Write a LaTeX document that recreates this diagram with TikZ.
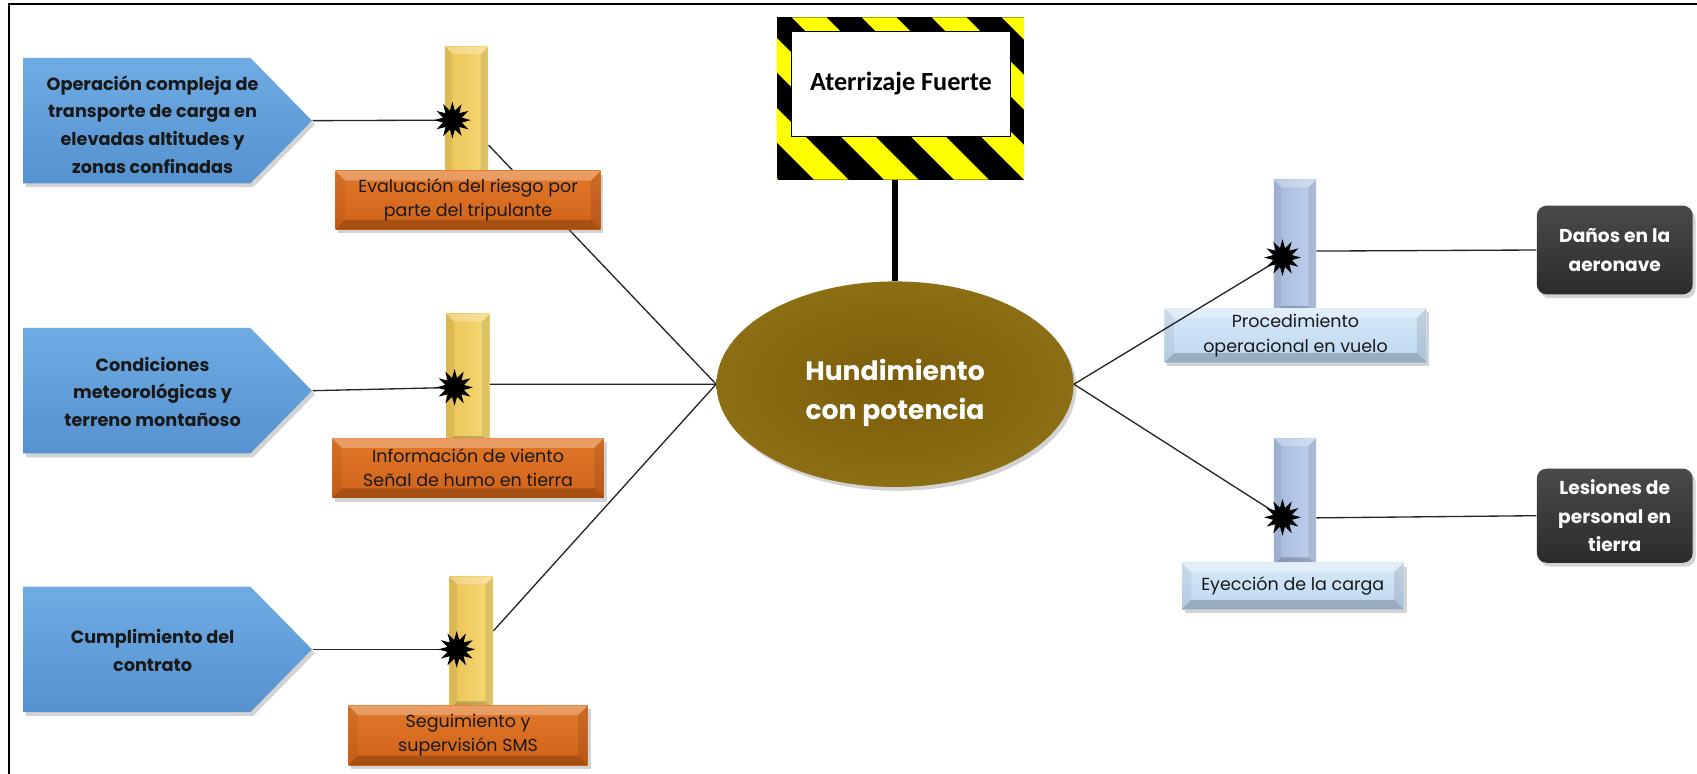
\documentclass[tikz,border=0pt]{standalone}
\usepackage{fontspec}
\setmainfont{Poppins}
\newfontfamily\signfont{Carlito}
\usetikzlibrary{shapes.geometric,shapes.symbols,shadows,calc}
\pgfdeclarelayer{bg}
\pgfsetlayers{bg,main}
\definecolor{bluetop}{HTML}{6FABE3}
\definecolor{bluebot}{HTML}{5592CF}
\definecolor{yelL}{HTML}{E9C357}
\definecolor{yelR}{HTML}{F8DA76}
\definecolor{orgtop}{HTML}{E2782A}
\definecolor{orgbot}{HTML}{CF6218}
\definecolor{ltbarL}{HTML}{A7BADD}
\definecolor{ltbarR}{HTML}{C0D1EE}
\definecolor{ltboxT}{HTML}{D8E9F8}
\definecolor{ltboxB}{HTML}{BDD7F0}
\definecolor{darkT}{HTML}{4B4949}
\definecolor{darkB}{HTML}{2C2A2A}
\definecolor{oliveIn}{HTML}{7B5D0A}
\definecolor{oliveOut}{HTML}{8C6E14}
\definecolor{signyellow}{HTML}{FFFF00}
\begin{document}
\begin{tikzpicture}[x=0.02cm,y=-0.02cm,
  shadowed/.style={drop shadow={shadow xshift=1.5pt,shadow yshift=-2pt,opacity=.35}},
  bevel/.style={path picture={
    \path (path picture bounding box.north west) coordinate (bnw)
          (path picture bounding box.north east) coordinate (bne)
          (path picture bounding box.south west) coordinate (bsw)
          (path picture bounding box.south east) coordinate (bse);
    \fill[white,opacity=.28] (bnw) -- (bne) -- ([shift={(-#1,-#1)}]bne) -- ([shift={(#1,-#1)}]bnw) -- cycle;
    \fill[black,opacity=.10] (bne) -- (bse) -- ([shift={(-#1,#1)}]bse) -- ([shift={(-#1,-#1)}]bne) -- cycle;
    \fill[black,opacity=.20] (bse) -- (bsw) -- ([shift={(#1,#1)}]bsw) -- ([shift={(-#1,#1)}]bse) -- cycle;
    \fill[black,opacity=.06] (bsw) -- (bnw) -- ([shift={(#1,-#1)}]bnw) -- ([shift={(#1,#1)}]bsw) -- cycle;
  }},
  bevel/.default=5pt,
  cause/.style={signal, signal to=east, signal pointer angle=91, shadowed,
    top color=bluetop, bottom color=bluebot, draw=none, inner sep=0pt,
    minimum width=5.34cm, minimum height=2.32cm},
  causetext/.style={align=center, inner sep=0pt,
    font=\bfseries\fontsize{9.3}{14.5}\selectfont, text=black!90},
  ybar/.style={rectangle, left color=yelL, right color=yelR, bevel=4pt, inner sep=0pt,
    minimum width=0.8cm},
  obox/.style={rectangle, top color=orgtop, bottom color=orgbot, bevel=5pt, shadowed,
    inner sep=0pt, align=center, font=\fontsize{9.2}{12.6}\selectfont, text=black!90},
  lbar/.style={rectangle, left color=ltbarL, right color=ltbarR, bevel=4pt, inner sep=0pt,
    minimum width=0.78cm},
  lbox/.style={rectangle, top color=ltboxT, bottom color=ltboxB, bevel=5pt, shadowed,
    inner sep=0pt, align=center, font=\fontsize{9.2}{13.2}\selectfont, text=black!90},
  dbox/.style={rectangle, rounded corners=0.18cm, top color=darkT, bottom color=darkB, shadowed,
    inner sep=0pt, minimum width=2.88cm, align=center,
    font=\bfseries\fontsize{9.8}{15}\selectfont, text=white},
  burst/.style={star, star points=12, star point ratio=1.9, fill=black, inner sep=0pt,
    minimum size=0.68cm},
  conn/.style={draw=black!85, line width=0.7pt},
]
\useasboundingbox (0,0) rectangle (1568,715);
% frame
\draw[line width=1pt] (8,715) -- (8,4) -- (1568,4);

% sign
\node[rectangle, fill=black, inner sep=0pt, minimum width=4.56cm, minimum height=3cm] (sign) at (832,91) {};
\begin{scope}
  \clip (sign.north west) rectangle (sign.south east);
  \foreach \i in {0,...,7}
    \fill[signyellow] ({537.4+\i*64.7},16) -- ++(32,0) -- ++(150,150) -- ++(-32,0) -- cycle;
\end{scope}
\node[rectangle, fill=white, draw=black, line width=0.4pt, inner sep=0pt,
  minimum width=4.06cm, minimum height=1.94cm, font=\signfont\bfseries\fontsize{13.8}{17}\selectfont]
  (signin) at (832.5,77.5) {Aterrizaje Fuerte};

% central event
\node[ellipse, inner color=oliveIn, outer color=oliveOut, shadowed, minimum width=6.6cm,
  minimum height=3.8cm, inner sep=0pt,
  label={[name=ellt, align=center, yshift=-0.16cm, font=\bfseries\fontsize{14}{21}\selectfont, text=white]center:Hundimiento\\con potencia}]
  (ell) at (827,355) {};
\draw[line width=2.8pt] (sign.south -| ell.north) -- (ell.north);

% left barriers
\node[ybar, minimum height=2.44cm] (yb1) at (431,104) {};
\node[ybar, minimum height=2.40cm] (yb2) at (432.5,350) {};
\node[ybar, minimum height=2.44cm] (yb3) at (435.5,594) {};

\begin{pgfonlayer}{bg}
  \draw[conn] ([yshift=-0.6cm]yb1.east) -- (ell.west);
  \draw[conn] ([yshift=-0.1cm]yb2.east) -- (ell.west);
  \draw[conn] ([yshift=0.22cm]yb3.east) -- (ell.west);
\end{pgfonlayer}

\node[obox, minimum width=4.9cm, minimum height=1.08cm] (ob1) at (432.5,185)
  {Evaluación del riesgo por\\parte del tripulante};
\node[obox, minimum width=5.02cm, minimum height=1.1cm] (ob2) at (432.5,432.5)
  {Información de viento\\Señal de humo en tierra};
\node[obox, minimum width=4.42cm, minimum height=1.1cm] (ob3) at (432.5,679.5)
  {Seguimiento y\\supervisión SMS};

% causes
\node[cause, anchor=west] (p1) at (21,111.5) {};
\node[cause, anchor=west] (p2) at (21,361) {};
\node[cause, anchor=west] (p3) at (21,600) {};
\node[causetext] (p1t) at (141,115)
  {Operación compleja de\\transporte de carga en\\elevadas altitudes y\\zonas confinadas};
\node[causetext] (p2t) at (141,362)
  {Condiciones\\meteorológicas y\\terreno montañoso};
\node[causetext] (p3t) at (141,601)
  {Cumplimiento del\\contrato};

% right barriers
\node[lbar, minimum height=2.48cm] (rb1) at (1196.5,228) {};
\node[lbar, minimum height=2.34cm] (rb2) at (1196.5,463.5) {};
\node[lbox, minimum width=4.84cm, minimum height=1cm] (lb1) at (1197,310)
  {Procedimiento\\operacional en vuelo};
\node[lbox, minimum width=4.1cm, minimum height=0.86cm] (lb2) at (1194.5,541.5)
  {Eyección de la carga};

% consequences
\node[dbox, minimum height=1.64cm] (db1) at (1492,231) {Daños en la\\aeronave};
\node[dbox, minimum height=1.74cm] (db2) at (1492,476.5) {Lesiones de\\personal en\\tierra};

% threat points
\coordinate (s1c) at (418,111);
\coordinate (s2c) at (420,358);
\coordinate (s3c) at (422,600);
\coordinate (r1c) at (1185,238);
\coordinate (r2c) at (1185,478);

\draw[conn] (p1.east) -- (s1c);
\draw[conn] (p2.east) -- (s2c);
\draw[conn] (p3.east) -- (s3c);
\draw[conn] (ell.east) -- (r1c);
\draw[conn] (ell.east) -- (r2c);
\draw[conn] ([yshift=-0.08cm]rb1.east) -- (db1.west);
\draw[conn] ([yshift=-0.3cm]rb2.east) -- (db2.west);

\node[burst] (s1) at (s1c) {};
\node[burst] (s2) at (s2c) {};
\node[burst] (s3) at (s3c) {};
\node[burst] (r1) at (r1c) {};
\node[burst] (r2) at (r2c) {};
\end{tikzpicture}
\end{document}
